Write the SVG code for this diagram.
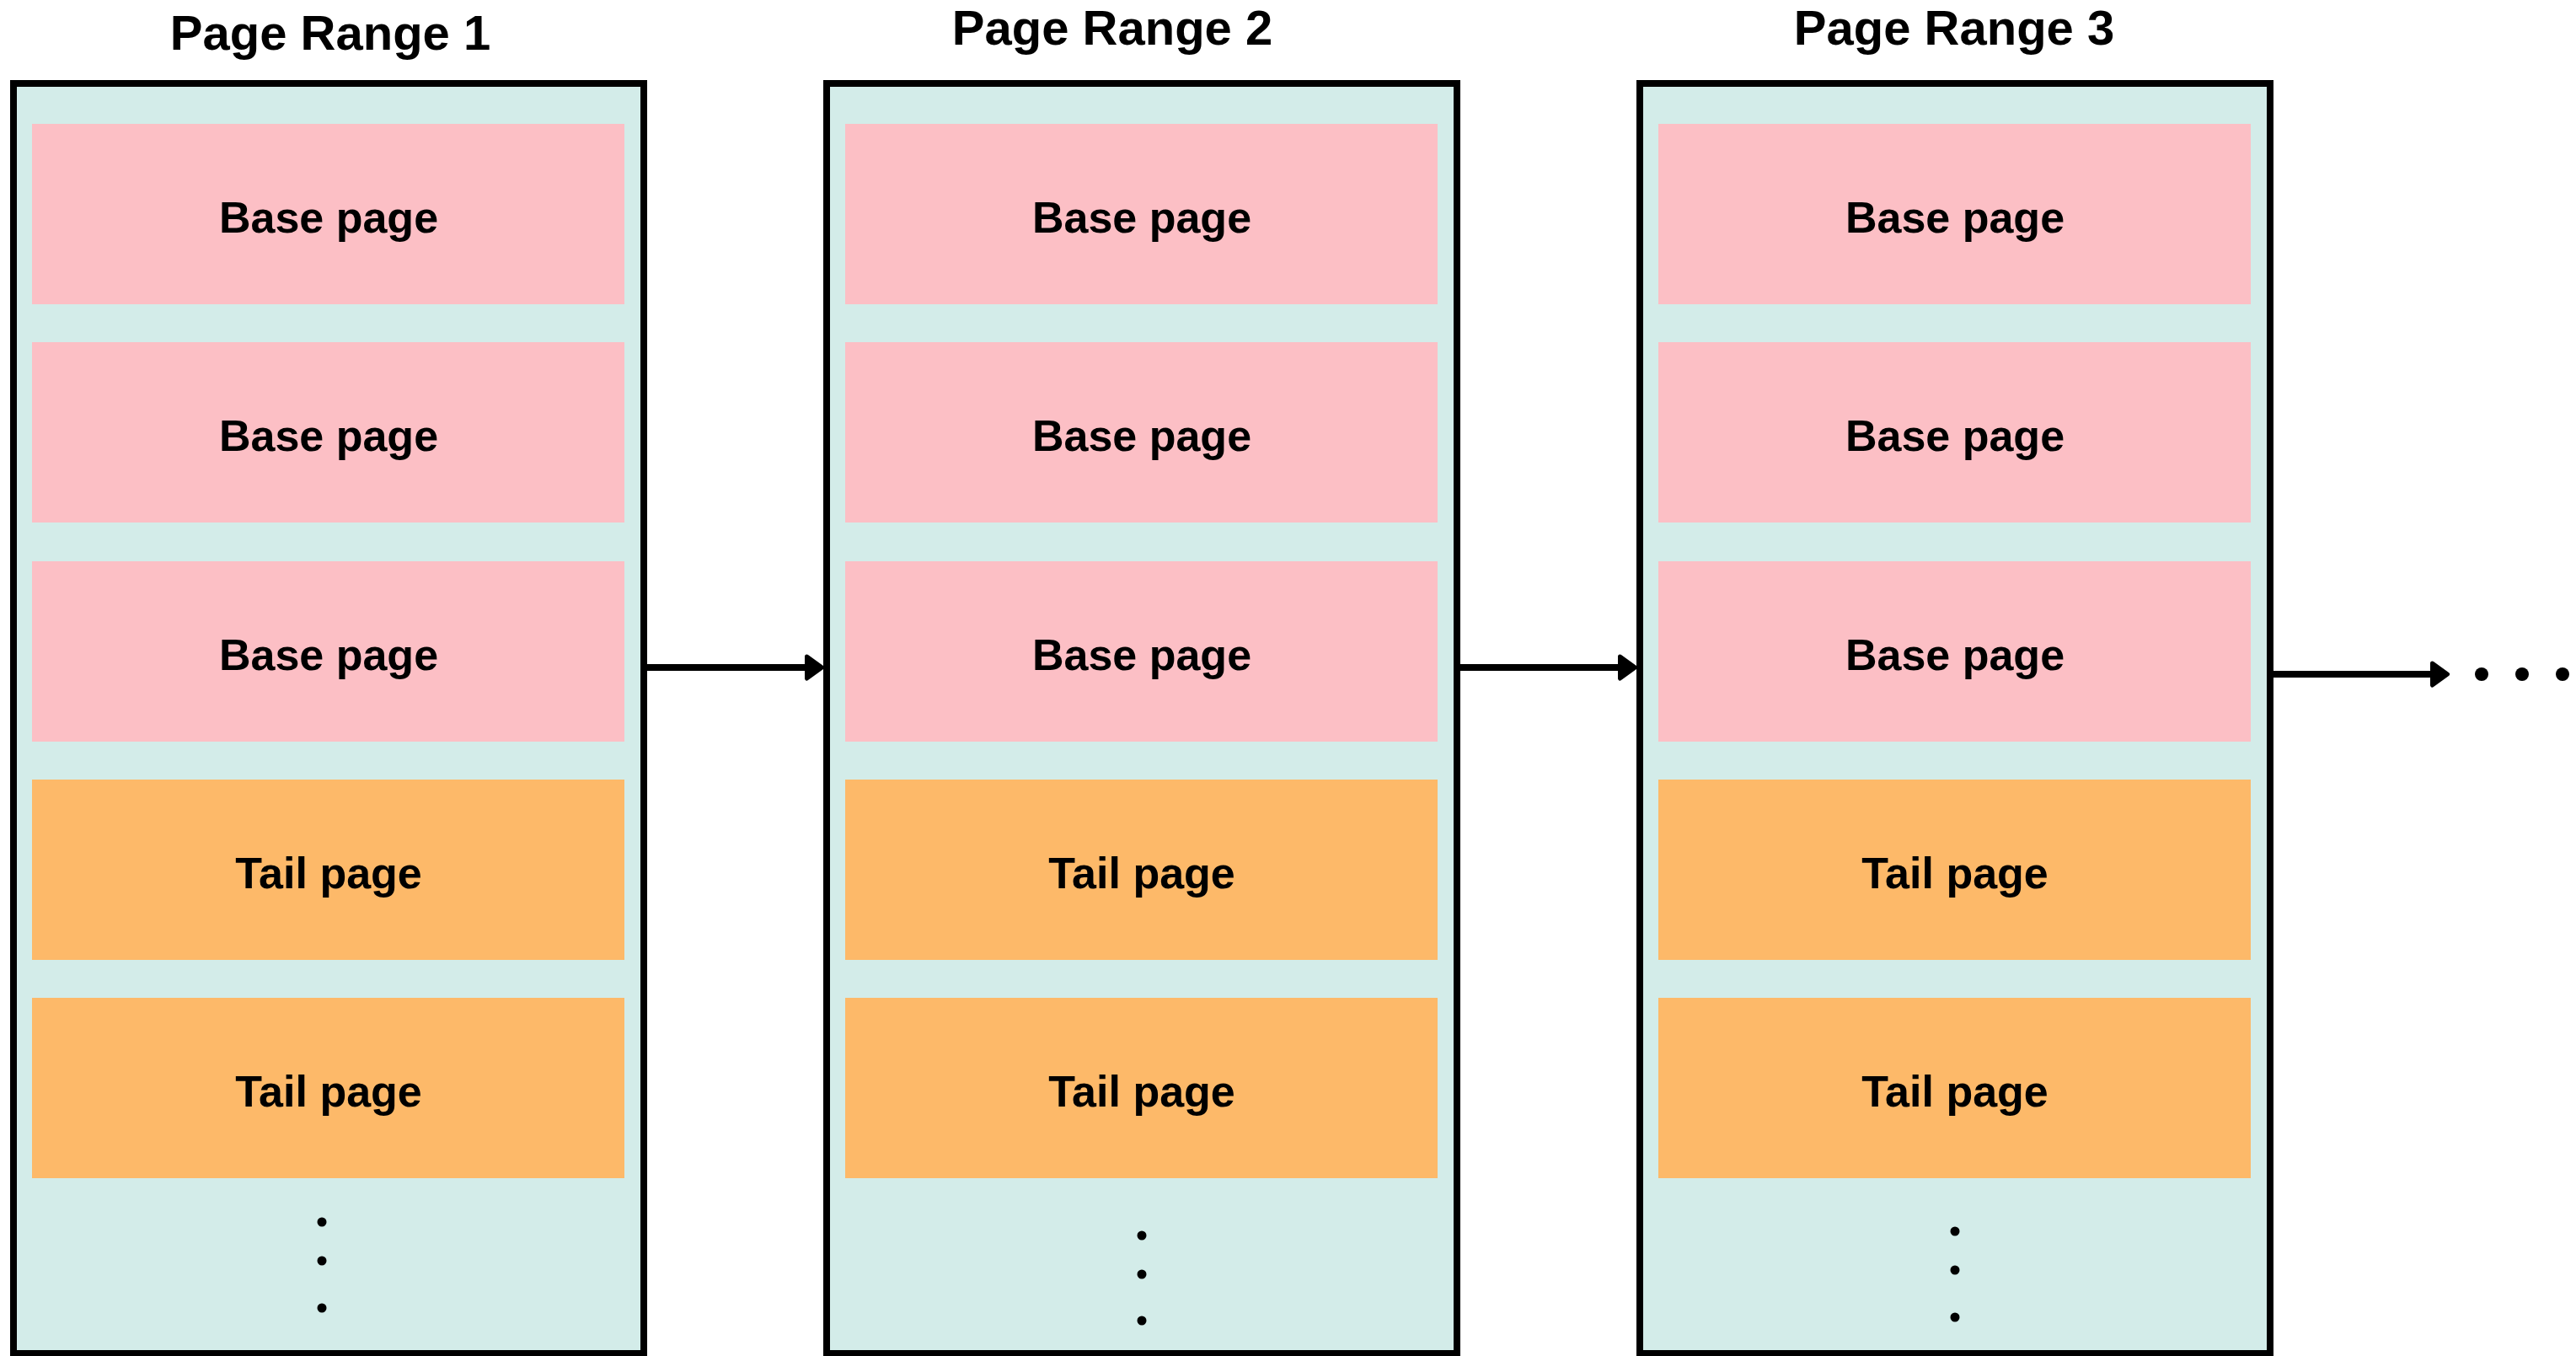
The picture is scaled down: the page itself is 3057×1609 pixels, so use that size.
<svg xmlns="http://www.w3.org/2000/svg" width="3057" height="1609" viewBox="0 0 3057 1609">
  <style>
    .range { fill: #D3ECE9; stroke: #000; stroke-width: 8; }
    .base { fill: #FCBFC5; }
    .tail { fill: #FDB969; }
    .title { font-family: "Liberation Sans", Arial, sans-serif; font-weight: bold; font-size: 58px; fill: #000; text-anchor: middle; }
    .label { font-family: "Liberation Sans", Arial, sans-serif; font-weight: bold; font-size: 52px; fill: #000; text-anchor: middle; }
    .dot { fill: #000; }
    .link { stroke: #000; stroke-width: 8; fill: none; marker-end: url(#head); }
  </style>
  <defs>
    <marker id="head" markerUnits="userSpaceOnUse" viewBox="0 0 24 32" markerWidth="24" markerHeight="32" refX="5.5" refY="16" orient="auto" overflow="visible">
      <path d="M3,3 L21,16 L3,29 Z" fill="#000" stroke="#000" stroke-width="5" stroke-linejoin="round"/>
    </marker>
  </defs>
  <rect width="3057" height="1609" fill="#fff"/>

  <!-- Page range 1 -->
  <g id="range1">
    <text class="title" x="392" y="59">Page Range 1</text>
    <rect class="range" x="16" y="99" width="748" height="1507"/>
    <g id="range1-base1"><rect class="base" x="38" y="147" width="703" height="214"/><text class="label" x="390" y="276">Base page</text></g>
    <g id="range1-base2"><rect class="base" x="38" y="406" width="703" height="214"/><text class="label" x="390" y="535">Base page</text></g>
    <g id="range1-base3"><rect class="base" x="38" y="666" width="703" height="214"/><text class="label" x="390" y="795">Base page</text></g>
    <g id="range1-tail1"><rect class="tail" x="38" y="925" width="703" height="214"/><text class="label" x="390" y="1054">Tail page</text></g>
    <g id="range1-tail2"><rect class="tail" x="38" y="1184" width="703" height="214"/><text class="label" x="390" y="1313">Tail page</text></g>
    <g id="range1-more">
      <circle class="dot" cx="382" cy="1450" r="5.5"/>
      <circle class="dot" cx="382" cy="1496" r="5.5"/>
      <circle class="dot" cx="382" cy="1552" r="5.5"/>
    </g>
  </g>

  <!-- Page range 2 -->
  <g id="range2">
    <text class="title" x="1320" y="53">Page Range 2</text>
    <rect class="range" x="981" y="99" width="748" height="1507"/>
    <g id="range2-base1"><rect class="base" x="1003" y="147" width="703" height="214"/><text class="label" x="1355" y="276">Base page</text></g>
    <g id="range2-base2"><rect class="base" x="1003" y="406" width="703" height="214"/><text class="label" x="1355" y="535">Base page</text></g>
    <g id="range2-base3"><rect class="base" x="1003" y="666" width="703" height="214"/><text class="label" x="1355" y="795">Base page</text></g>
    <g id="range2-tail1"><rect class="tail" x="1003" y="925" width="703" height="214"/><text class="label" x="1355" y="1054">Tail page</text></g>
    <g id="range2-tail2"><rect class="tail" x="1003" y="1184" width="703" height="214"/><text class="label" x="1355" y="1313">Tail page</text></g>
    <g id="range2-more">
      <circle class="dot" cx="1355" cy="1466" r="5.5"/>
      <circle class="dot" cx="1355" cy="1512" r="5.5"/>
      <circle class="dot" cx="1355" cy="1567" r="5.5"/>
    </g>
  </g>

  <!-- Page range 3 -->
  <g id="range3">
    <text class="title" x="2319" y="53">Page Range 3</text>
    <rect class="range" x="1946" y="99" width="748" height="1507"/>
    <g id="range3-base1"><rect class="base" x="1968" y="147" width="703" height="214"/><text class="label" x="2320" y="276">Base page</text></g>
    <g id="range3-base2"><rect class="base" x="1968" y="406" width="703" height="214"/><text class="label" x="2320" y="535">Base page</text></g>
    <g id="range3-base3"><rect class="base" x="1968" y="666" width="703" height="214"/><text class="label" x="2320" y="795">Base page</text></g>
    <g id="range3-tail1"><rect class="tail" x="1968" y="925" width="703" height="214"/><text class="label" x="2320" y="1054">Tail page</text></g>
    <g id="range3-tail2"><rect class="tail" x="1968" y="1184" width="703" height="214"/><text class="label" x="2320" y="1313">Tail page</text></g>
    <g id="range3-more">
      <circle class="dot" cx="2320" cy="1461" r="5.5"/>
      <circle class="dot" cx="2320" cy="1507" r="5.5"/>
      <circle class="dot" cx="2320" cy="1563" r="5.5"/>
    </g>
  </g>

  <!-- Horizontal ellipsis after the last range -->
  <g id="continuation">
    <circle class="dot" cx="2945" cy="800" r="8"/>
    <circle class="dot" cx="2993" cy="800" r="8"/>
    <circle class="dot" cx="3041" cy="800" r="8"/>
  </g>

  <!-- Links between ranges -->
  <g id="connectors">
    <line class="link" x1="768" y1="792" x2="960" y2="792"/>
    <line class="link" x1="1733" y1="792" x2="1925" y2="792"/>
    <line class="link" x1="2698" y1="800" x2="2889" y2="800"/>
  </g>
</svg>
